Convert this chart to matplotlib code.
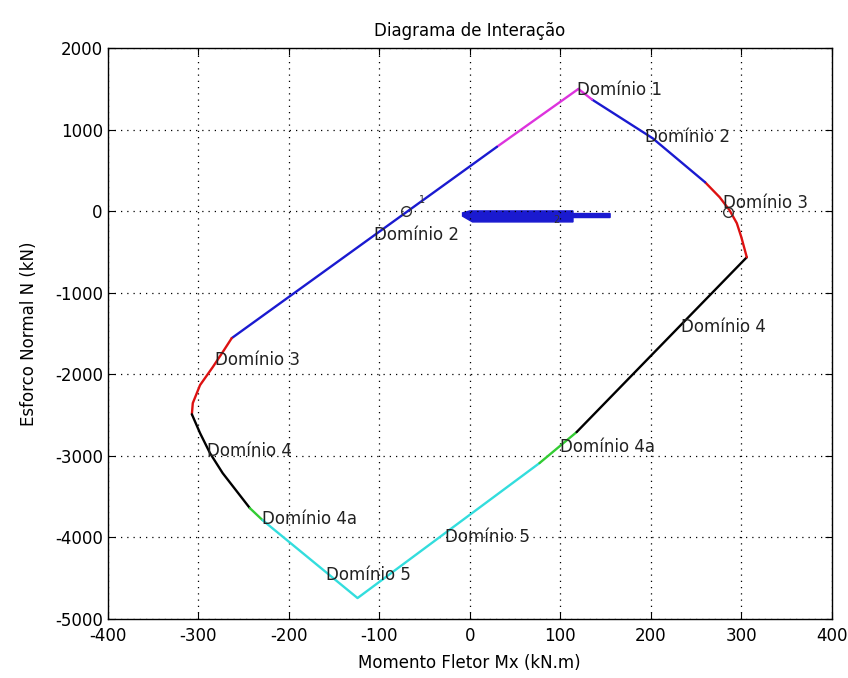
import matplotlib
matplotlib.use("Agg")
import matplotlib.pyplot as plt

# -- data (Mx in kN.m, N in kN) --
mag_left_x = [120, 30]
mag_left_y = [1500, 790]
blue_left_x = [30, -263]
blue_left_y = [790, -1556]
red_left_x = [-263, -273, -284, -298, -306, -307]
red_left_y = [-1556, -1728, -1912, -2132, -2353, -2490]
black_left_x = [-307, -298, -287, -273, -243]
black_left_y = [-2490, -2720, -2966, -3211, -3640]
green_left_x = [-243, -229]
green_left_y = [-3640, -3787]
cyan_x = [-229, -124, 77]
cyan_y = [-3787, -4743, -3088]
green_right_x = [77, 118]
green_right_y = [-3088, -2708]
black_right_x = [118, 306]
black_right_y = [-2708, -564]
red_right_x = [306, 300, 295, 287, 276, 260]
red_right_y = [-564, -319, -147, 12, 172, 355]
blue_right_x = [260, 202, 135]
blue_right_y = [355, 895, 1370]
mag_right_x = [135, 120]
mag_right_y = [1370, 1500]

# collapsed blue blob in the middle of the chart
blob_x = [-8, 0, 114, 114, 155, 155, 114, 114, 3, -8]
blob_y = [-20, 4, 4, -28, -28, -77, -77, -131, -131, -60]

circle_x = [-70, 285]
circle_y = [0, -12]

labels = ["Domínio 1", "Domínio 2", "Domínio 3", "Domínio 2", "Domínio 3",
          "Domínio 4", "Domínio 4", "Domínio 4a", "Domínio 4a", "Domínio 5",
          "Domínio 5"]
label_x = [118, 193, 280, -106, -282, -290, 233, 100, -230, -27, -159]
label_y = [1483, 907, 98, -294, -1826, -2940, -1421, -2892, -3775, -3995, -4460]

plt.rcParams["font.family"] = ["DejaVu Sans"]
plt.rcParams["axes.unicode_minus"] = False

fig = plt.figure(figsize=(8.48, 6.78), dpi=100)
ax = fig.add_axes([0.127, 0.087, 0.854, 0.842])

lw = 1.7
segments = [
    (mag_left_x, mag_left_y, "#dd33dd"),
    (blue_left_x, blue_left_y, "#1a1ad0"),
    (red_left_x, red_left_y, "#dd1111"),
    (black_left_x, black_left_y, "black"),
    (green_left_x, green_left_y, "#33cc33"),
    (cyan_x, cyan_y, "#33dddd"),
    (green_right_x, green_right_y, "#33cc33"),
    (black_right_x, black_right_y, "black"),
    (red_right_x, red_right_y, "#dd1111"),
    (blue_right_x, blue_right_y, "#1a1ad0"),
    (mag_right_x, mag_right_y, "#dd33dd"),
]
for xs, ys, c in segments:
    ax.plot(xs, ys, color=c, lw=lw, solid_capstyle="round", solid_joinstyle="round")

ax.fill(blob_x, blob_y, color="#1a1ad0", lw=1)
ax.plot(circle_x, circle_y, "o", mfc="none", mec="#333333", ms=7, mew=1)
ax.text(-53, 135, "1", fontsize=7, color="#333333", ha="center", va="center")
ax.text(96, -110, "2", fontsize=7, color="#333333", ha="center", va="center")

for t, x, y in zip(labels, label_x, label_y):
    ax.text(x, y, t, fontsize=12, color="#222222", ha="left", va="center")

ax.set_xlim(-400, 400)
ax.set_ylim(-5000, 2000)
ax.set_xticks(range(-400, 401, 100))
ax.set_yticks(range(-5000, 2001, 1000))
ax.grid(True, color="black", linestyle=(0, (1, 4)), lw=0.9)
ax.tick_params(direction="in", labelsize=12, length=5, top=True, right=True)
ax.tick_params(axis="x", pad=6)
for s in ax.spines.values():
    s.set_linewidth(1.0)

ax.set_title("Diagrama de Interação", fontsize=12, pad=9)
ax.set_xlabel("Momento Fletor Mx (kN.m)", fontsize=12, labelpad=6)
ax.set_ylabel("Esforco Normal N (kN)", fontsize=12, labelpad=12)

fig.savefig("out.png", dpi=100)
